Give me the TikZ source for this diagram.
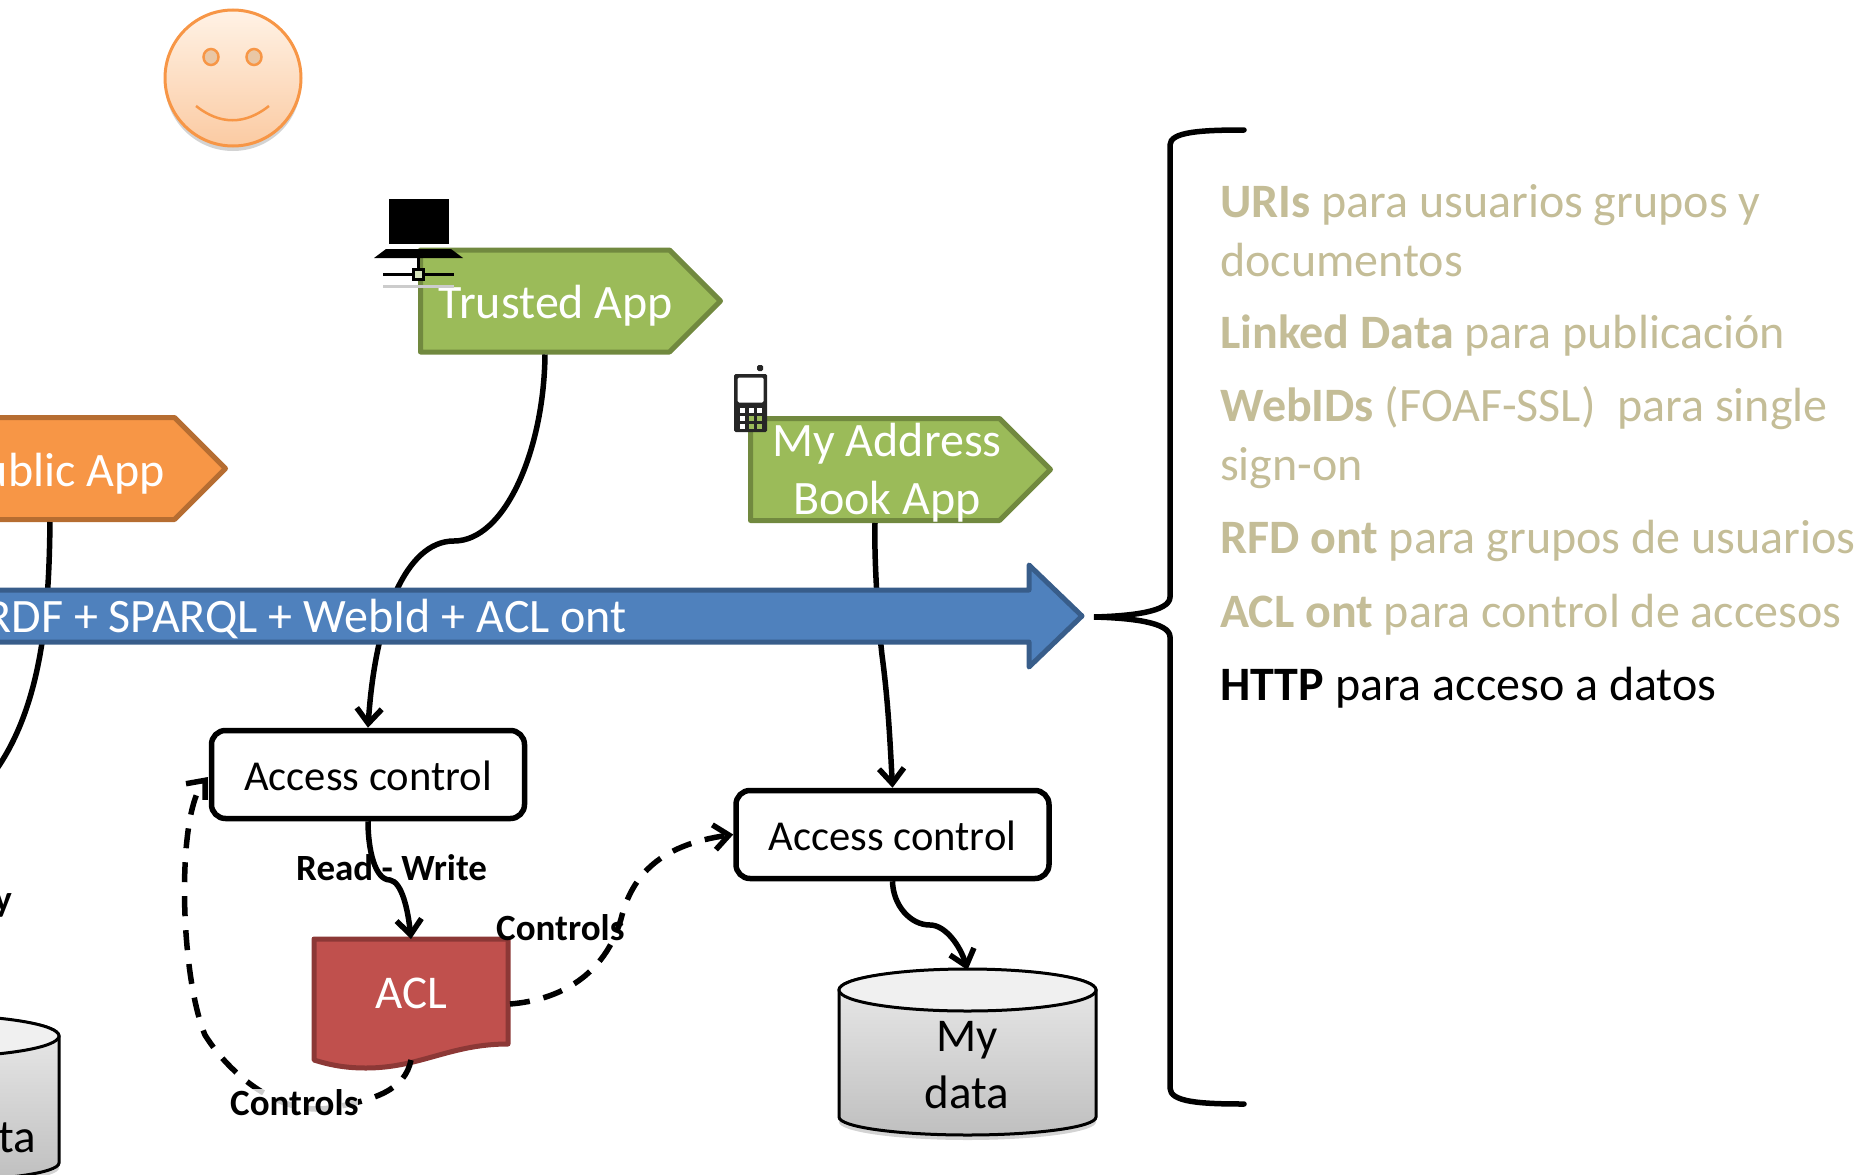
\documentclass[tikz,border=0pt]{standalone}
\usepackage{fontspec}
\setmainfont{Carlito}
\usepackage{xcolor}
\usetikzlibrary{arrows.meta}
\usetikzlibrary{shapes.symbols}
\usetikzlibrary{shadows}

\definecolor{tagGreen}{HTML}{9BBB59}
\definecolor{tagGreenDark}{HTML}{71893F}
\definecolor{tagOrange}{HTML}{F79646}
\definecolor{tagOrangeDark}{HTML}{B66D31}
\definecolor{busBlue}{HTML}{4F81BD}
\definecolor{busBlueDark}{HTML}{385D8A}
\definecolor{aclRed}{HTML}{C0504D}
\definecolor{aclRedDark}{HTML}{8C3836}
\definecolor{listTan}{HTML}{C4BD97}
\definecolor{phoneBlack}{HTML}{262626}

\tikzset{
    apptag/.style={shape=signal,signal to=east,signal pointer angle=90,draw,line width=5pt,line join=round,
        anchor=west,inner sep=0pt,minimum width=300pt,minimum height=102pt},
    applabel/.style={text=white,align=center,inner sep=0pt,font=\fontsize{48}{58}\selectfont},
    accessbox/.style={draw,line width=5.5pt,fill=white,rounded corners=14pt,minimum width=313pt,minimum height=88pt,
        text height=31pt,text depth=0pt,font=\fontsize{42.6}{50}\selectfont},
    storelabel/.style={align=center,inner sep=0pt,font=\fontsize{47}{57}\selectfont},
    edgelabel/.style={anchor=base west,inner sep=0pt,font=\fontsize{37}{44}\selectfont\bfseries},
    listitem/.style={anchor=base west,inner sep=0pt,text=listTan,font=\fontsize{48}{58}\selectfont},
    link/.style={line width=5.5pt,-{Straight Barb[length=15pt,width=25pt]}},
    plainlink/.style={line width=5.5pt},
    dashlink/.style={link,dash pattern=on 20pt off 14pt}
}

\begin{document}
\begin{tikzpicture}[x=1pt,y=-1pt]
    \useasboundingbox (0,0) rectangle (1872,1175);

    % smiley
    \shade[top color=orange!10!white,bottom color=tagOrange!50!white,draw=tagOrange,line width=3pt,
        drop shadow={shadow xshift=0pt,shadow yshift=-5pt,opacity=0.35}] (233,78) ellipse [x radius=68,y radius=68];
    \filldraw[fill=black!25!orange!35!white,draw=tagOrange,line width=2.5pt] (211,57) ellipse [x radius=7.5,y radius=8];
    \filldraw[fill=black!25!orange!35!white,draw=tagOrange,line width=2.5pt] (254,57) ellipse [x radius=7.5,y radius=8];
    \draw[draw=tagOrange,line width=2.5pt] (196,106) .. controls (220,125) and (245,125) .. (269,106);

    % application tags
    \node[apptag,fill=tagGreen,draw=tagGreenDark] (trusted) at (418,301) {};
    \node[applabel,anchor=base] (trustedlabel) at (556,318) {Trusted App};
    \node[apptag,fill=tagGreen,draw=tagGreenDark] (addressbook) at (748,469.5) {};
    \node[applabel] (addressbooklabel) at (887,473) {My Address\\Book App};
    \node[apptag,fill=tagOrange,draw=tagOrangeDark] (public) at (-77,468.5) {};
    \node[applabel,anchor=base east] (publiclabel) at (165,486) {ublic App};

    % computer
    \fill (389,199) rectangle (449,244);
    \fill (386,249) -- (451,249) -- (463,258) -- (374,258) -- cycle;
    \draw[black!20,line width=3pt] (383,286) -- (454,286);
    \draw[line width=3pt] (418,258) -- (418,268);
    \draw[line width=3pt] (383,274) -- (412,274);
    \draw[line width=3pt] (424,274) -- (454,274);
    \draw[line width=3pt,fill=tagGreen!40!white] (413,269) rectangle (423,279);

    % phone
    \fill[phoneBlack,rounded corners=1.5pt] (734,374) rectangle (767,432);
    \fill[phoneBlack,rounded corners=1.5pt] (757,365) rectangle (763,371);
    \fill[white,rounded corners=1.5pt] (737.5,377.5) rectangle (763.5,402.5);
    \foreach \keyx/\keyy/\keycol in {742/410/white,751/410/white,759/410/white,742/418/white,751/418/tagGreen,759/418/tagGreen,742/426/white,751/426/tagGreen,759/426/tagGreen}
        \fill[\keycol] (\keyx-2.5,\keyy-2.5) rectangle (\keyx+2.5,\keyy+2.5);

    % access control and data
    \node[accessbox] (accessleft) at (368,774.5) {Access control};
    \node[accessbox] (accessright) at (892.5,834.5) {Access control};
    \foreach \cx/\cy in {967.5/990,-69.5/1036} {
        \shade[top color=black!8,bottom color=black!25,draw=black,line width=3pt,
            drop shadow={shadow xshift=0pt,shadow yshift=-5pt,opacity=0.35}]
            (\cx-128.5,\cy) -- (\cx-128.5,\cy+127) .. controls (\cx-128.5,\cy+137) and (\cx-70,\cy+145) .. (\cx,\cy+145)
            .. controls (\cx+70,\cy+145) and (\cx+128.5,\cy+137) .. (\cx+128.5,\cy+127) -- (\cx+128.5,\cy)
            .. controls (\cx+128.5,\cy-12) and (\cx+70,\cy-20) .. (\cx,\cy-20)
            .. controls (\cx-70,\cy-20) and (\cx-128.5,\cy-12) .. (\cx-128.5,\cy) -- cycle;
        \filldraw[fill=black!6,line width=3pt] (\cx,\cy) ellipse [x radius=128.5,y radius=21];
    }
    \coordinate (mydatatop) at (967.5,970);
    \node[storelabel] (mydatalabel) at (967,1065) {My\\data};
    \node[storelabel,anchor=base east] (otherdatalabel) at (36,1152) {ta};

    % acl document
    \filldraw[fill=aclRed,draw=aclRedDark,line width=5pt,line join=round] (314,939) -- (508,939) -- (508,1044)
        .. controls (450,1044) and (420,1068) .. (366,1068) .. controls (345,1068) and (330,1065) .. (314,1060) -- cycle;
    \node[inner sep=0pt,text=white,font=\fontsize{47}{57}\selectfont] (acl) at (411,993) {ACL};

    % links
    \draw[plainlink] (public.south) .. controls (49,600) and (45,700) .. (-4,770);
    \draw[link] (trusted.south) .. controls (544,450) and (505,541) .. (454,541)
        .. controls (405,541) and (375,620) .. (accessleft.north);
    \draw[link] (addressbook.south) .. controls (874,560) and (878,620) .. (882,655)
        .. controls (888,700) and (890,740) .. (accessright.north);
    \draw[link] (accessleft.south) .. controls (368,850) and (375,880) .. (390,880)
        .. controls (402,882) and (408,910) .. (411,939);
    \draw[link] (accessright.south) .. controls (893,905) and (910,925) .. (930,925)
        .. controls (945,925) and (960,945) .. (mydatatop);
    \draw[dashlink] (510,1004) .. controls (560,1000) and (605,975) .. (621,919)
        .. controls (632,875) and (660,845) .. (accessright.west);
    \draw[dashlink] (411,1060) .. controls (405,1090) and (375,1100) .. (330,1108)
        .. controls (280,1116) and (230,1075) .. (205,1035)
        .. controls (180,975) and (176,815) .. (208,777);

    % bus arrow
    \filldraw[fill=busBlue,draw=busBlueDark,line width=5pt,line join=round] (-10,590) -- (1029,590) -- (1029,565) -- (1082,616)
        -- (1029,667) -- (1029,642) -- (-10,642) -- cycle;
    \node[anchor=base east,inner sep=0pt,text=white,font=\fontsize{48}{58}\selectfont] (buslabel) at (627,632) {RDF + SPARQL + WebId + ACL ont};

    % edge labels
    \node[edgelabel] (readwrite) at (296,880) {Read - Write};
    \node[edgelabel] (controlsright) at (496,940) {Controls};
    \node[edgelabel,fill=white,fill opacity=0.8,text opacity=1] (controlsleft) at (230,1115) {Controls};
    \node[edgelabel,anchor=base east] (readonly) at (12,911) {y};

    % brace
    \draw[line width=5.5pt,line cap=round] (1244,130) .. controls (1200,130) and (1170,132) .. (1170,145)
        -- (1170,597) .. controls (1170,612) and (1130,616) .. (1094,617)
        .. controls (1130,618) and (1170,622) .. (1170,637) -- (1170,1088)
        .. controls (1170,1102) and (1200,1104) .. (1244,1104);

    % list
    \node[listitem] (uris) at (1220,217.5) {\textbf{URIs} para usuarios grupos y};
    \node[listitem] (urisb) at (1220,276) {documentos};
    \node[listitem] (linked) at (1220,348.5) {\textbf{Linked Data} para publicación};
    \node[listitem] (webids) at (1220,421.5) {\textbf{WebIDs} (FOAF-SSL)\ \ para single};
    \node[listitem] (webidsb) at (1220,480) {sign-on};
    \node[listitem] (rfd) at (1220,553.5) {\textbf{RFD ont} para grupos de usuarios};
    \node[listitem] (aclont) at (1220,627.5) {\textbf{ACL ont} para control de accesos};
    \node[listitem,text=black] (http) at (1220,700.5) {\textbf{HTTP} para acceso a datos};
\end{tikzpicture}
\end{document}
